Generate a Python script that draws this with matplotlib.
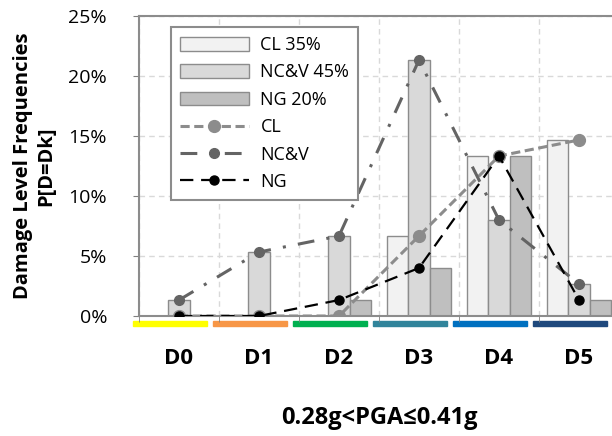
import numpy as np
from matplotlib import pyplot as plt
from matplotlib.patches import Rectangle

plt.rcParams['font.family'] = ['Open Sans', 'DejaVu Sans']

levels = ['D0', 'D1', 'D2', 'D3', 'D4', 'D5']
cl_bar = [0, 0, 0, 6.67, 13.33, 14.67]
ncv_bar = [1.33, 5.33, 6.67, 21.33, 8.0, 2.67]
ng_bar = [0, 0, 1.33, 4.0, 13.33, 1.33]
cl_line = [0, 0, 0, 6.67, 13.33, 14.67]
ncv_line = [1.33, 5.33, 6.67, 21.33, 8.0, 2.67]
ng_line = [0, 0, 1.33, 4.0, 13.33, 1.33]
strip_colors = ['#FFFF00', '#F79646', '#00B050', '#31849B', '#0070C0', '#1F497D']

fig = plt.figure(figsize=(6.12, 4.36), dpi=100)
ax = fig.add_axes([139/612, 120/436, 480/612, 300/436])

x = np.arange(len(levels))
w = 0.265
b1 = ax.bar(x - w, cl_bar, w, color='#F2F2F2', edgecolor='#8C8C8C', lw=1, zorder=2)
b2 = ax.bar(x, ncv_bar, w, color='#D9D9D9', edgecolor='#8C8C8C', lw=1, zorder=2)
b3 = ax.bar(x + w, ng_bar, w, color='#BFBFBF', edgecolor='#8C8C8C', lw=1, zorder=2)

l1, = ax.plot(x, cl_line, color='#8C8C8C', ls=(0, (3, 1.5)), lw=2.2, marker='o', ms=8.5, zorder=3)
l2, = ax.plot(x, ncv_line, color='#646464', ls=(0, (5.5, 4, 1, 4)), lw=2.2, marker='o', ms=7, zorder=4)
l3, = ax.plot(x, ng_line, color='black', ls=(0, (6, 3.5)), lw=1.6, marker='o', ms=6.5, zorder=5)

ax.set_xlim(-0.5, 5.5)
ax.set_ylim(0, 25)
ax.set_yticks([0, 5, 10, 15, 20, 25])
ax.set_yticklabels(['0%', '5%', '10%', '15%', '20%', '25%'], fontsize=14)
ax.set_xticks(x)
ax.set_xticklabels(levels, fontsize=16, fontweight='bold')
ax.set_xticks(np.arange(-0.5, 6, 1), minor=True)
ax.tick_params(axis='x', which='major', length=0, pad=23)
ax.tick_params(axis='x', which='minor', length=4, color='#808080', direction='out')
ax.tick_params(axis='y', length=4, color='#808080', pad=19)
ax.grid(True, axis='y', ls=(0, (4, 3)), color='#D9D9D9', lw=1, zorder=0)
ax.grid(True, axis='x', which='minor', ls=(0, (4, 3)), color='#D9D9D9', lw=1, zorder=0)
for s in ['left', 'bottom', 'top', 'right']:
    ax.spines[s].set_color('#8C8C8C')
    ax.spines[s].set_linewidth(1.5)

# coloured damage-level strips under the axis
trans = ax.get_xaxis_transform()
for i, c in enumerate(strip_colors):
    ax.add_patch(Rectangle((i - 0.575, -0.018), 0.93, -0.016, transform=trans,
                           color=c, clip_on=False, zorder=1))

ax.set_ylabel('Damage Level Frequencies\nP[D=Dk]', fontsize=14.5, fontweight='bold', labelpad=9,
              linespacing=1.2)
ax.set_xlabel('0.28g<PGA≤0.41g', fontsize=17, fontweight='bold', labelpad=27)

leg = ax.legend([b1, b2, b3, l1, l2, l3], ['CL 35%', 'NC&V 45%', 'NG 20%', 'CL', 'NC&V', 'NG'],
                loc='upper left', bbox_to_anchor=(32/480, 289/300), borderaxespad=0, fontsize=13,
                fancybox=False, edgecolor='#8C8C8C', framealpha=1,
                handlelength=3.8, handleheight=0.8, labelspacing=0.52, borderpad=0.5,
                handletextpad=0.65)
leg.get_frame().set_linewidth(1.5)

fig.savefig('out.png', dpi=100)
